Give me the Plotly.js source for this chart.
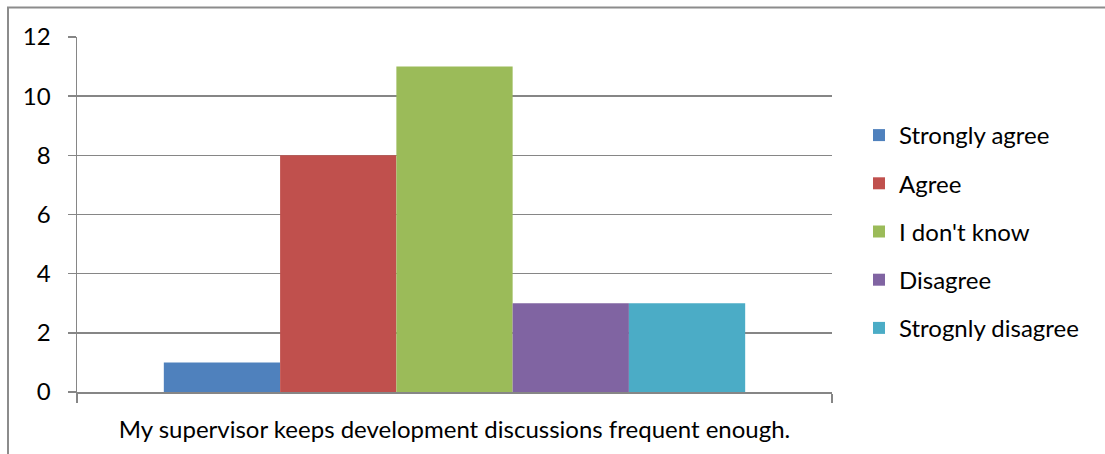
<!DOCTYPE html>
<html>
<head>
<meta charset="utf-8">
<script src="https://cdn.plot.ly/plotly-3.0.1.min.js"></script>
<style>
  html, body { margin: 0; padding: 0; background: #ffffff; }
  #chart { width: 1105px; height: 454px; }
</style>
</head>
<body>
<div id="chart"></div>
<script>
// Survey statement shown on the category axis
const question = ["My supervisor keeps development discussions frequent enough."];

// Response options and their counts
const responses = ["Strongly agree", "Agree", "I don't know", "Disagree", "Strognly disagree"];
const counts = [1, 8, 11, 3, 3];
const colors = ["#4F81BD", "#C0504D", "#9BBB59", "#8064A2", "#4BACC6"];

// Value axis ticks
const yTicks = [0, 2, 4, 6, 8, 10, 12];

const W = 1105, H = 454;
const M = { l: 77, r: 273, t: 37, b: 62 };
const plotW = W - M.l - M.r;
const plotH = H - M.t - M.b;

const traces = responses.map((name, i) => ({
  type: "bar",
  name: name,
  x: question,
  y: [counts[i]],
  marker: { color: colors[i], line: { width: 0 } },
  legendgroup: "g" + i,
  hoverinfo: "name+y"
}));

// Outer frame of the chart area, given in pixels and converted to paper units
const px = v => (v - M.l) / plotW;
const py = v => (H - M.b - v) / plotH;

const FS = 24;

const layout = {
  width: W,
  height: H,
  margin: M,
  paper_bgcolor: "#ffffff",
  plot_bgcolor: "#ffffff",
  font: { family: "Lato, 'Open Sans', sans-serif", size: FS, color: "#000000" },
  barmode: "group",
  bargap: 0.23,
  bargroupgap: 0,
  showlegend: true,
  legend: {
    x: px(859),
    xanchor: "left",
    y: py(113),
    yanchor: "top",
    font: { size: FS, color: "#000000" },
    tracegroupgap: 14,
    itemwidth: 30,
    bgcolor: "rgba(0,0,0,0)"
  },
  xaxis: {
    type: "category",
    showgrid: false,
    showline: true,
    linecolor: "#868686",
    linewidth: 1.5,
    ticks: "outside",
    tickson: "boundaries",
    ticklen: 9,
    tickcolor: "#868686",
    tickwidth: 1.5,
    tickfont: { size: FS },
    ticklabelstandoff: 16,
    fixedrange: true
  },
  yaxis: {
    range: [0, 12],
    tickvals: yTicks,
    ticktext: yTicks.map(String),
    showgrid: true,
    gridcolor: "#868686",
    gridwidth: 1.5,
    zeroline: false,
    showline: true,
    linecolor: "#868686",
    linewidth: 1.5,
    ticks: "outside",
    ticklen: 8,
    tickcolor: "#868686",
    tickwidth: 1.5,
    tickfont: { size: FS },
    ticklabelstandoff: 12,
    fixedrange: true
  },
  shapes: [
    {
      type: "rect",
      xref: "paper", yref: "paper",
      x0: px(8), x1: px(1112),
      y0: py(462), y1: py(7.5),
      line: { color: "#8c8c8c", width: 2 },
      fillcolor: "rgba(0,0,0,0)",
      layer: "below"
    }
  ]
};

Plotly.newPlot("chart", traces, layout, { displayModeBar: false, staticPlot: true });
</script>
</body>
</html>
